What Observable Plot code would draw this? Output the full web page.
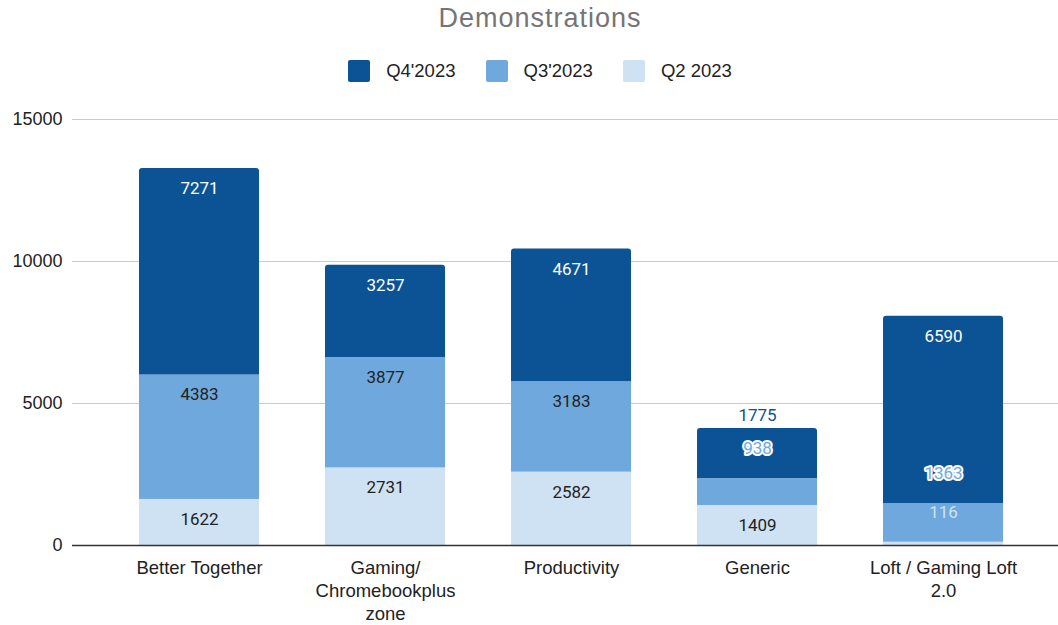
<!DOCTYPE html>
<html>
<head>
<meta charset="utf-8">
<script src="https://cdn.jsdelivr.net/npm/d3@7"></script>
<script src="https://cdn.jsdelivr.net/npm/@observablehq/plot@0.6"></script>
<style>
  html, body { margin: 0; padding: 0; background: #fff; }
  #wrap { width: 1058px; height: 625px; position: relative; overflow: hidden; }
  #title { height: 40px; line-height: 36px; padding-left: 22px; text-align: center;
           font-family: "Liberation Sans", Arial, sans-serif; font-size: 27px; letter-spacing: 1px; color: #757575; }
  #legend { height: 55px; padding-left: 22px; display: flex; justify-content: center; align-items: flex-start;
            font-family: "Liberation Sans", Arial, sans-serif; font-size: 18.5px; color: #222; }
  .item { display: flex; align-items: center; margin: 0 15px; height: 22px; margin-top: 20px; }
  .sw { width: 22px; height: 22px; border-radius: 2px; margin-right: 16px; }
  svg { display: block; }
</style>
</head>
<body>
<div id="wrap">
  <div id="title"></div>
  <div id="legend"></div>
  <div id="chart"></div>
</div>
<script>
const title = "Demonstrations";
const categories = ["Better Together", "Gaming/\nChromebookplus\nzone", "Productivity", "Generic", "Loft / Gaming Loft\n2.0"];
const seriesNames = ["Q4'2023", "Q3'2023", "Q2 2023"];
const seriesColors = ["#0b5394", "#6fa8dc", "#cfe2f3"];
const q2 = [1622, 2731, 2582, 1409, 116];
const q3 = [4383, 3877, 3183, 938, 1363];
const q4 = [7271, 3257, 4671, 1775, 6590];
const yTicks = [0, 5000, 10000, 15000];

document.getElementById("title").textContent = title;
const legend = document.getElementById("legend");
seriesNames.forEach((s, i) => {
  const it = document.createElement("div");
  it.className = "item";
  it.innerHTML = `<div class="sw" style="background:${seriesColors[i]}"></div><span></span>`;
  it.querySelector("span").textContent = s;
  legend.appendChild(it);
});

const W = 1058, H = 530, mt = 24, mb = 80;
const yDomain = [0, 15000];
const ys = Plot.scale({y: {domain: yDomain, range: [H - mb, mt]}});
const px = v => ys.apply(v);

// bottom-to-top order
const stackOrder = [
  {name: seriesNames[2], vals: q2, color: seriesColors[2], text: "#222"},
  {name: seriesNames[1], vals: q3, color: seriesColors[1], text: "#222"},
  {name: seriesNames[0], vals: q4, color: seriesColors[0], text: "#fff"}
];

const rows = [];
const labels = [];
categories.forEach((c, i) => {
  const total = stackOrder.reduce((a, s) => a + s.vals[i], 0);
  const q4Base = total - q4[i];
  let base = 0, prevLabelY = Infinity;
  stackOrder.forEach((s, k) => {
    const v = s.vals[i];
    const top = base + v;
    rows.push({cat: c, series: s.name, y1: base, y2: top, color: s.color, isTop: k === stackOrder.length - 1});
    const h = px(base) - px(top);
    let mode, ly, anchor = top;
    if (h >= 40) { mode = "in"; ly = px(top) + 20; }
    else { mode = "above"; ly = px(top) - 29; }
    if (Math.abs(ly - prevLabelY) < 20) { mode = "top"; anchor = total; ly = px(total) - 13; }
    const halo = mode !== "in" && ly > px(total) && ly < px(q4Base);
    labels.push({cat: c, yv: anchor, text: String(v), mode, halo, fill: mode === "in" ? s.text : s.color});
    prevLabelY = ly;
    base = top;
  });
});

const dyFor = {in: 20, above: -30, top: -13};
const labelMarks = [];
for (const mode of ["in", "above", "top"]) {
  for (const halo of [false, true]) {
    const d = labels.filter(l => l.mode === mode && l.halo === halo);
    if (!d.length) continue;
    labelMarks.push(Plot.text(d, {
      x: "cat", y: "yv", text: "text", fill: "fill", dy: dyFor[mode],
      fontFamily: "Roboto, sans-serif", fontSize: 17,
      ...(halo ? {stroke: "#fff", strokeWidth: 4, paintOrder: "stroke", strokeLinejoin: "round"} : {})
    }));
  }
}

const chart = Plot.plot({
  width: W, height: H,
  marginLeft: 72, marginRight: 0, marginTop: mt, marginBottom: mb,
  style: {fontFamily: "'Liberation Sans', Arial, sans-serif", fontSize: "18px", color: "#222", background: "#fff"},
  x: {type: "band", domain: categories, range: [104.8, 1036.7], paddingInner: 0.356, paddingOuter: 0.178, label: null},
  y: {domain: yDomain, range: [H - mb, mt], label: null},
  marks: [
    Plot.gridY(yTicks, {stroke: "#cccccc", strokeOpacity: 1, strokeWidth: 1}),
    Plot.barY(rows.filter(r => !r.isTop), {x: "cat", y1: "y1", y2: "y2", fill: "color"}),
    Plot.barY(rows.filter(r => r.isTop), {x: "cat", y1: "y1", y2: "y2", fill: "color", ry1: 3, rx1y1: 3, rx2y1: 3}),
    Plot.ruleY([0], {stroke: "#333", strokeWidth: 1.5}),
    Plot.axisY(yTicks, {tickSize: 0, tickPadding: 10, fontSize: 18, tickFormat: d => String(d)}),
    Plot.axisX({tickSize: 0, tickPadding: 12, fontSize: 18.5, lineHeight: 1.24}),
    ...labelMarks
  ]
});
document.getElementById("chart").appendChild(chart);
</script>
</body>
</html>
